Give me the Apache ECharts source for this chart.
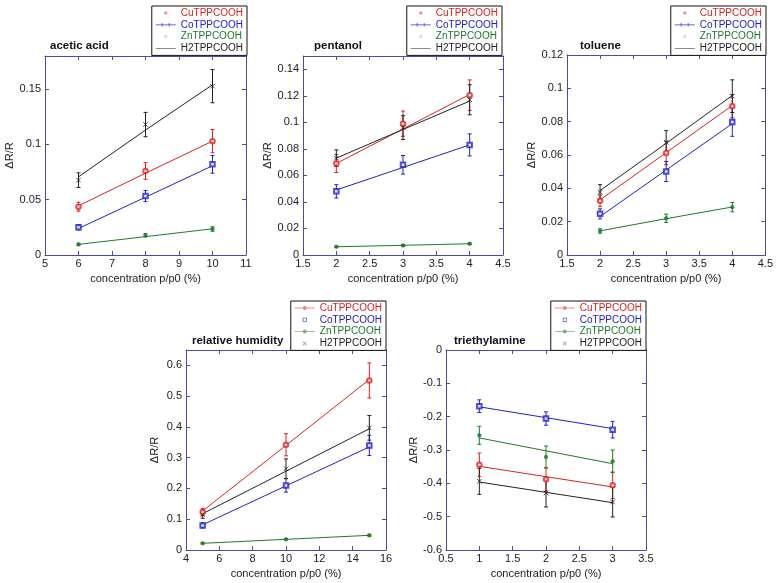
<!DOCTYPE html>
<html>
<head>
<meta charset="utf-8">
<script src="https://cdn.jsdelivr.net/npm/echarts@6/dist/echarts.min.js"></script>
<style>
html,body{margin:0;padding:0;background:#fff;}
#chart{width:776px;height:583px;}
</style>
</head>
<body>
<div id="chart"></div>
<script>
// ---------- data ----------
const compounds = ['CuTPPCOOH', 'CoTPPCOOH', 'ZnTPPCOOH', 'H2TPPCOOH'];
const panelTitles = ['acetic acid', 'pentanol', 'toluene', 'relative humidity', 'triethylamine'];
const xLabel = 'concentration p/p0 (%)';
const yLabel = '\u0394R/R';

// order inside each panel array: Cu, Co, Zn, H2
const aceticX = [6, 8, 10];
const aceticVal = [[0.0437, 0.076, 0.103], [0.025, 0.0533, 0.082], [0.0096, 0.0178, 0.0235], [0.0677, 0.118, 0.1527]];
const aceticErr = [[0.004, 0.0075, 0.0105], [0.0023, 0.005, 0.008], [0.001, 0.0015, 0.002], [0.0066, 0.011, 0.015]];
const aceticFit = [[0.0445, 0.074, 0.103], [0.024, 0.0523, 0.0807], [0.0096, 0.0166, 0.0237], [0.0707, 0.113, 0.154]];

const pentanolX = [2, 3, 4];
const pentanolVal = [[0.069, 0.099, 0.1205], [0.048, 0.068, 0.083], [0.0062, 0.0072, 0.0085], [0.073, 0.096, 0.117]];
const pentanolErr = [[0.0068, 0.0095, 0.0115], [0.005, 0.007, 0.0083], [0.0005, 0.0005, 0.0006], [0.00625, 0.009, 0.0113]];
const pentanolFit = [[0.069, 0.095, 0.121], [0.049, 0.066, 0.083], [0.0062, 0.0073, 0.0085], [0.073, 0.0946, 0.116]];

const tolueneX = [2, 3, 4];
const tolueneVal = [[0.0325, 0.0612, 0.0893], [0.0247, 0.0501, 0.0798], [0.0144, 0.022, 0.0287], [0.0377, 0.0676, 0.0953]];
const tolueneErr = [[0.0035, 0.007, 0.007], [0.003, 0.006, 0.0086], [0.0013, 0.0025, 0.0028], [0.0045, 0.007, 0.0098]];
const tolueneFit = [[0.0331, 0.0614, 0.0897], [0.0231, 0.051, 0.0788], [0.0145, 0.0218, 0.0288], [0.0387, 0.067, 0.0957]];

const humidityX = [5, 10, 15];
const humidityVal = [[0.1235, 0.342, 0.551], [0.080, 0.210, 0.340], [0.0217, 0.0347, 0.0477], [0.115, 0.264, 0.397]];
const humidityErr = [[0.011, 0.036, 0.057], [0.008, 0.022, 0.033], [0.002, 0.002, 0.003], [0.012, 0.032, 0.040]];
const humidityFit = [[0.127, 0.340, 0.554], [0.082, 0.2085, 0.335], [0.0217, 0.0347, 0.0477], [0.118, 0.256, 0.394]];

const teaX = [1, 2, 3];
const teaVal = [[-0.344, -0.388, -0.406], [-0.1685, -0.2056, -0.239], [-0.2558, -0.321, -0.334], [-0.394, -0.429, -0.456]];
const teaErr = [[0.035, 0.035, 0.04], [0.019, 0.02, 0.025], [0.027, 0.033, 0.034], [0.039, 0.042, 0.045]];
const teaFit = [[-0.349, -0.380, -0.411], [-0.1705, -0.203, -0.2357], [-0.2638, -0.3025, -0.341], [-0.396, -0.427, -0.458]];

// axis ranges: [xmin, xmax, xinterval, ymin, ymax, yinterval]
const axisRanges = [
  [5, 11, 1, 0, 0.18, 0.05],
  [1.5, 4.5, 0.5, 0, 0.15, 0.02],
  [1.5, 4.5, 0.5, 0, 0.12, 0.02],
  [4, 16, 2, 0, 0.65, 0.1],
  [0.5, 3.5, 0.5, -0.6, 0, 0.1]
];

// ---------- styling / layout ----------
const colors = ['#e02020', '#2020d0', '#1f7a2a', '#222222'];
const axisColor = '#4a4aa8';
const FONT = 'Liberation Sans, Arial, Helvetica, sans-serif';
const grids = [
  {left: 45, top: 56, width: 201, height: 199},
  {left: 303, top: 56, width: 200, height: 199},
  {left: 567, top: 55, width: 199, height: 200},
  {left: 186, top: 350, width: 200, height: 200},
  {left: 446, top: 350, width: 200, height: 200}
];
const panels = [
  {x: aceticX, val: aceticVal, err: aceticErr, fit: aceticFit},
  {x: pentanolX, val: pentanolVal, err: pentanolErr, fit: pentanolFit},
  {x: tolueneX, val: tolueneVal, err: tolueneErr, fit: tolueneFit},
  {x: humidityX, val: humidityVal, err: humidityErr, fit: humidityFit},
  {x: teaX, val: teaVal, err: teaErr, fit: teaFit}
];
const showMaxY = [false, false, true, false, true];
const titlePos = [[50, 40], [314, 40], [580, 40], [192, 335], [454, 335]];
const legendPos = [[529, 6], [274, 6], [10, 6], [390, 301], [130, 301]];

const crossPath = 'path://M0,0L10,10M10,0L0,10';
const markerSymbols = ['emptyCircle', 'emptyRect', 'circle', crossPath];
const markerSizes = [4.5, 4.5, 3.5, 4.5];

const B = 'M0,0h0.01v0.01h-0.01zM20,10h0.01v0.01h-0.01z';
const linePath = 'path://M0,4.6h20v0.8h-20z' + B;
const linePlusPath = 'path://M0,4.6h20v0.8h-20zM6,3.2h0.8v3.6h-0.8zM13,3.2h0.8v3.6h-0.8z' + B;
const lineDotPath = 'path://M0,4.6h8h4h8v0.8h-8h-4h-8zM8,5a2,2 0 1 1 4,0a2,2 0 1 1 -4,0z' + B;
const dotPath = 'path://M8.2,5a1.8,1.8 0 1 1 3.6,0a1.8,1.8 0 1 1 -3.6,0z' + B;
const squarePath = 'path://M8,3h4v4h-4zM8.7,6.3h2.6v-2.6h-2.6z' + B;
const crossLegPath = 'path://M8,3.5L8.5,3L12,6.5L11.5,7zM11.5,3L12,3.5L8.5,7L8,6.5z' + B;
const legendIconsTop = [dotPath, linePlusPath, dotPath, linePath];
const legendIconsBottom = [lineDotPath, squarePath, lineDotPath, crossLegPath];
const legendIconOpacity = [[0.45, 0.9, 0.2, 0.7], [0.55, 0.8, 0.6, 0.5]];

const option = {
  animation: false,
  backgroundColor: '#ffffff',
  textStyle: {fontFamily: FONT},
  title: [], legend: [], grid: [], xAxis: [], yAxis: [], series: []
};

panels.forEach((p, i) => {
  const r = axisRanges[i];
  option.grid.push(Object.assign({containLabel: false, show: false}, grids[i]));
  option.title.push({
    text: panelTitles[i], left: titlePos[i][0], top: titlePos[i][1], padding: 0,
    textStyle: {fontSize: 11.5, fontWeight: 'bold', color: '#111', fontFamily: FONT}
  });
  const icons = i < 3 ? legendIconsTop : legendIconsBottom;
  const op = i < 3 ? legendIconOpacity[0] : legendIconOpacity[1];
  option.legend.push({
    orient: 'vertical', right: legendPos[i][0], top: legendPos[i][1],
    backgroundColor: '#fff', borderColor: '#111', borderWidth: 1,
    padding: [2, 4, 2, 4], itemGap: 1.8, itemWidth: 20, itemHeight: 10,
    selectedMode: false,
    data: compounds.map((c, k) => ({
      name: c, icon: icons[k],
      itemStyle: {color: colors[k], opacity: op[k], borderWidth: 0},
      textStyle: {color: colors[k]}
    })),
    textStyle: {fontSize: 10, fontFamily: FONT, padding: [0, 0, 0, 0]}
  });
  const axisCommon = {
    axisLine: {show: true, onZero: false, lineStyle: {color: axisColor, width: 1}},
    axisTick: {show: true, inside: true, length: 4, lineStyle: {color: axisColor}},
    splitLine: {show: false}
  };
  option.xAxis.push(Object.assign({
    type: 'value', gridIndex: i, position: 'bottom', min: r[0], max: r[1], interval: r[2],
    axisLabel: {color: '#222', fontSize: 11, margin: 3, fontFamily: FONT},
    name: xLabel, nameLocation: 'middle', nameGap: 18,
    nameTextStyle: {color: '#222', fontSize: 11, fontFamily: FONT}
  }, axisCommon));
  option.xAxis.push(Object.assign({
    type: 'value', gridIndex: i, position: 'top', min: r[0], max: r[1], interval: r[2],
    axisLabel: {show: false}
  }, axisCommon));
  option.yAxis.push(Object.assign({
    type: 'value', gridIndex: i, position: 'left', min: r[3], max: r[4], interval: r[5],
    axisLabel: {color: '#222', fontSize: 11, margin: 4, fontFamily: FONT, showMaxLabel: showMaxY[i]},
    name: yLabel, nameLocation: 'middle', nameGap: 26, nameRotate: 90,
    nameTextStyle: {color: '#222', fontSize: 11, fontFamily: FONT}
  }, axisCommon));
  option.yAxis.push(Object.assign({
    type: 'value', gridIndex: i, position: 'right', min: r[3], max: r[4], interval: r[5],
    axisLabel: {show: false}
  }, axisCommon));

  const xi = 2 * i, yi = 2 * i;
  compounds.forEach((c, k) => {
    // fitted line
    option.series.push({
      type: 'line', name: c + ' fit', xAxisIndex: xi, yAxisIndex: yi, symbol: 'none',
      lineStyle: {color: colors[k], width: 1}, silent: true, z: 2,
      data: p.x.map((x, j) => [x, p.fit[k][j]])
    });
    // error bars
    option.series.push({
      type: 'custom', name: c, xAxisIndex: xi, yAxisIndex: yi, silent: true, z: 3,
      encode: {x: 0, y: [1, 2]},
      data: p.x.map((x, j) => [x, p.val[k][j] - p.err[k][j], p.val[k][j] + p.err[k][j]]),
      renderItem: function (params, api) {
        const lo = api.coord([api.value(0), api.value(1)]);
        const hi = api.coord([api.value(0), api.value(2)]);
        const st = {stroke: colors[k], lineWidth: 1};
        const w = 2;
        return {type: 'group', children: [
          {type: 'line', shape: {x1: lo[0], y1: lo[1], x2: hi[0], y2: hi[1]}, style: st},
          {type: 'line', shape: {x1: lo[0] - w, y1: lo[1], x2: lo[0] + w, y2: lo[1]}, style: st},
          {type: 'line', shape: {x1: hi[0] - w, y1: hi[1], x2: hi[0] + w, y2: hi[1]}, style: st}
        ]};
      }
    });
    // markers
    option.series.push({
      type: 'scatter', name: c, xAxisIndex: xi, yAxisIndex: yi, z: 4, silent: true,
      symbol: markerSymbols[k], symbolSize: markerSizes[k],
      itemStyle: k === 3
        ? {color: 'rgba(0,0,0,0)', borderColor: colors[k], borderWidth: 1}
        : {color: colors[k], borderColor: colors[k], borderWidth: 0.8},
      data: p.x.map((x, j) => [x, p.val[k][j]])
    });
  });
});

const chart = echarts.init(document.getElementById('chart'), null, {renderer: 'canvas'});
chart.setOption(option);
</script>
</body>
</html>
